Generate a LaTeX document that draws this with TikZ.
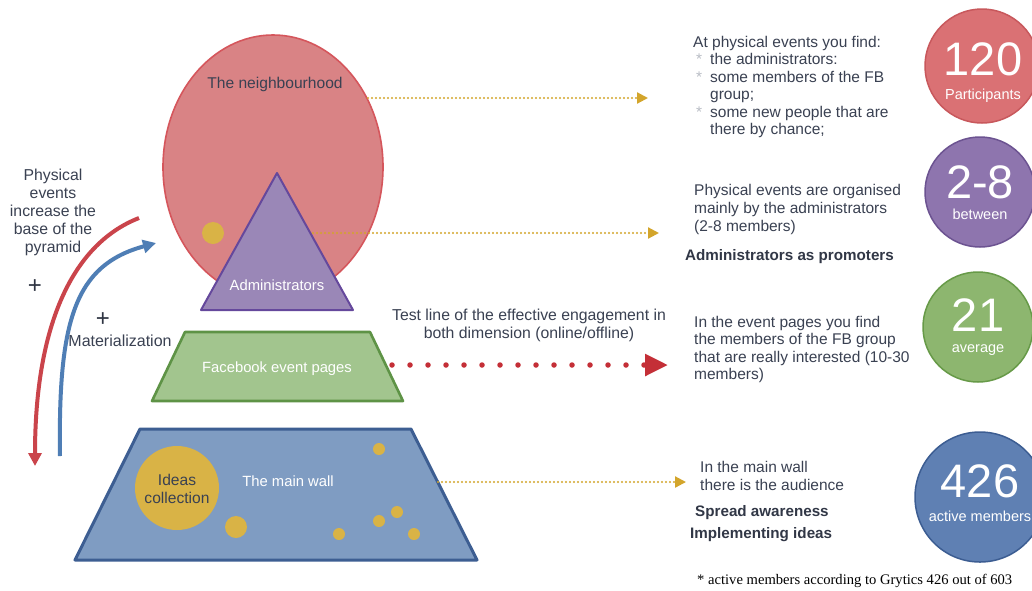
\documentclass[tikz,border=0pt]{standalone}
\usepackage{fontspec}
\setmainfont{Liberation Sans}
\newfontfamily\notefont{Liberation Serif}
\usetikzlibrary{arrows.meta,positioning,shapes.geometric}

\definecolor{inkgray}{HTML}{3A4152}
\definecolor{bulletgray}{HTML}{B8BCC4}
\definecolor{hoodfill}{HTML}{D98385}
\definecolor{hoodline}{HTML}{D5565C}
\definecolor{adminfill}{HTML}{9A87B7}
\definecolor{adminline}{HTML}{65489C}
\definecolor{fbfill}{HTML}{A2C58E}
\definecolor{fbline}{HTML}{5E9346}
\definecolor{wallfill}{HTML}{7F9CC2}
\definecolor{wallline}{HTML}{3D5E92}
\definecolor{ideagold}{HTML}{D9B346}
\definecolor{golddot}{HTML}{D3A52B}
\definecolor{testred}{HTML}{C42F37}
\definecolor{riseblue}{HTML}{4F7EB5}
\definecolor{partsred}{HTML}{DA7174}
\definecolor{partsline}{HTML}{C8585C}
\definecolor{betweenpurple}{HTML}{8E75AE}
\definecolor{betweenline}{HTML}{6C5391}
\definecolor{avggreen}{HTML}{8DB66F}
\definecolor{avgline}{HTML}{679A48}
\definecolor{activeblue}{HTML}{5F80B3}
\definecolor{activeline}{HTML}{3C5D92}

\newcommand\bul{\makebox[17pt][l]{\hspace{3pt}\textcolor{bulletgray}{*}}}
\newcommand\ind{\makebox[17pt]{}}

\tikzset{
  body/.style={text=inkgray, font=\fontsize{15.5}{17.4}\selectfont, align=left, inner sep=0pt, anchor=north west},
  lead/.style={text=inkgray!85!black, font=\bfseries\fontsize{15.2}{17}\selectfont, inner sep=0pt, anchor=west},
  inside/.style={font=\fontsize{14.8}{17}\selectfont, inner sep=0pt, align=center},
  plus/.style={text=inkgray!80!black, font=\fontsize{24}{24}\selectfont, inner sep=0pt},
  gold dots/.style={draw=golddot, line width=2.2pt, dash pattern=on 0pt off 4pt, line cap=round,
    -{Triangle[length=11pt,width=11pt,fill=golddot]}},
  statcircle/.style={circle, line width=1.5pt, minimum size=#1, inner sep=0pt},
  bignum/.style={text=white, font=\fontsize{47}{47}\selectfont, inner sep=0pt},
  smallcap/.style={text=white, font=\fontsize{14.5}{15}\selectfont, inner sep=0pt},
  dot/.style={circle, fill=ideagold, inner sep=0pt, minimum size=#1},
}

\begin{document}
\begin{tikzpicture}[x=1pt,y=-1pt]
  \useasboundingbox[fill=white] (0,0) rectangle (1032,590);

  % the neighbourhood and the administrators on top of it
  \node[ellipse, draw=hoodline, fill=hoodfill, line width=1.6pt, minimum width=220pt, minimum height=264pt, inner sep=0pt] (hood) at (273,167) {};
  \node[inside, text=inkgray, font=\fontsize{15.6}{17}\selectfont] (hoodlabel) at (275,84) {The neighbourhood};
  \node[dot=22pt] (admindot) at (213,233) {};
  \draw[draw=adminline, fill=adminfill, line width=2pt, line join=round]
    (277,173) coordinate (apex) -- (353,310) coordinate (adminright) -- (201,310) coordinate (adminleft) -- cycle;
  \node[inside, text=white] (adminlabel) at (277,285) {Administrators};

  % facebook event pages
  \draw[draw=fbline, fill=fbfill, line width=2.6pt, line join=round]
    (185,332) coordinate (fbtl) -- (370,332) coordinate (fbtr) -- (403,401) coordinate (fbbr) -- (152,401) coordinate (fbbl) -- cycle;
  \node[inside, text=white] (fblabel) at (277,369) {Facebook event pages};

  % the main wall with its ideas
  \draw[draw=wallline, fill=wallfill, line width=3pt, line join=round]
    (140,429) coordinate (walltl) -- (411,429) coordinate (walltr) -- (477,560) coordinate (wallbr) -- (75,560) coordinate (wallbl) -- cycle;
  \node[dot=84pt] (ideas) at (177,488) {};
  \node[inside, text=inkgray, font=\fontsize{15.6}{17.5}\selectfont] (ideaslabel) at (177,489) {Ideas\\collection};
  \node[inside, text=white] (walllabel) at (288,481) {The main wall};
  \node[dot=22pt] (idea1) at (236,527) {};
  \node[dot=12pt] (idea2) at (379,449) {};
  \node[dot=12pt] (idea3) at (379,521) {};
  \node[dot=12pt] (idea4) at (397,512) {};
  \node[dot=12pt] (idea5) at (339,534) {};
  \node[dot=12pt] (idea6) at (414,534) {};

  % curved arrows on the left
  \coordinate (redtop) at (139,218);
  \coordinate (redend) at (35,466);
  \coordinate (bluestart) at (60,456);
  \coordinate (blueend) at (156,243);
  \draw[testred!90!white, line width=4pt, -{Triangle[length=13pt,width=13pt]}]
    (redtop) .. controls (70,245) and (35,330) .. (redend);
  \draw[riseblue, line width=4pt, -{Triangle[length=13pt,width=13pt]}]
    (bluestart) .. controls (58,320) and (75,265) .. (blueend);
  \node[body, align=center, anchor=north, font=\fontsize{15.8}{18}\selectfont] (physlabel) at (53,169)
    {Physical\\events\\increase the\\base of the\\pyramid};
  \node[plus] (plusred) at (35,287) {+};
  \node[plus] (plusblue) at (103,320) {+};
  \node[inside, text=inkgray, font=\fontsize{16}{17}\selectfont] (matlabel) at (120,341) {Materialization};

  % dotted links to the notes
  \coordinate (hoodout) at (368,98);
  \coordinate (hoodnote) at (648,98);
  \coordinate (adminout) at (313,233);
  \coordinate (adminnote) at (659,233);
  \coordinate (fbout) at (392,365);
  \coordinate (fbnote) at (668,365);
  \coordinate (wallout) at (438,482);
  \coordinate (wallnote) at (686,482);
  \draw[gold dots] (hoodout) -- (hoodnote);
  \draw[gold dots] (adminout) -- (adminnote);
  \draw[gold dots] (wallout) -- (wallnote);
  \draw[testred, line width=5.5pt, dash pattern=on 0pt off 18pt, line cap=round,
    -{Triangle[length=23pt,width=21pt,fill=testred]}] (fbout) -- (fbnote);
  \node[body, align=center, anchor=north, font=\fontsize{15.8}{18}\selectfont] (testlabel) at (529,309)
    {Test line of the effective engagement in\\both dimension (online/offline)};

  % notes
  \node[body] (hoodtext) at (693,36)
    {At physical events you find:\\
     \bul the administrators:\\
     \bul some members of the FB\\
     \ind group;\\
     \bul some new people that are\\
     \ind there by chance;};
  \node[body, font=\fontsize{15.5}{18}\selectfont] (admintext) at (694,184)
    {Physical events are organised\\mainly by the administrators\\(2-8 members)};
  \node[lead] (promoters) at (685,257) {Administrators as promoters};
  \node[body] (fbtext) at (694,316)
    {In the event pages you find\\the members of the FB group\\that are really interested (10-30\\members)};
  \node[body, font=\fontsize{15.5}{18}\selectfont] (walltext) at (700,461)
    {In the main wall\\there is the audience};
  \node[lead] (spread) at (695,513) {Spread awareness};
  \node[lead] (implement) at (690,535) {Implementing ideas};

  % figures
  \node[statcircle=114pt, fill=partsred, draw=partsline] (parts) at (982,66) {};
  \node[bignum] (partsnum) at (983,59) {120};
  \node[smallcap] (partslabel) at (983,96) {Participants};
  \node[statcircle=110pt, fill=betweenpurple, draw=betweenline] (between) at (980,192) {};
  \node[bignum] (betweennum) at (980,182) {2-8};
  \node[smallcap] (betweenlabel) at (980,214) {between};
  \node[statcircle=110pt, fill=avggreen, draw=avgline] (avg) at (978,327) {};
  \node[bignum] (avgnum) at (978,315) {21};
  \node[smallcap] (avglabel) at (978,350) {average};
  \node[statcircle=130pt, fill=activeblue, draw=activeline] (active) at (980,497) {};
  \node[bignum] (activenum) at (980,481) {426};
  \node[smallcap] (activelabel) at (980,516) {active members};

  \node[anchor=base west, inner sep=0pt, font=\notefont\fontsize{14.6}{16}\selectfont] (grytics) at (697,584)
    {* active members according to Grytics 426 out of 603};
\end{tikzpicture}
\end{document}
